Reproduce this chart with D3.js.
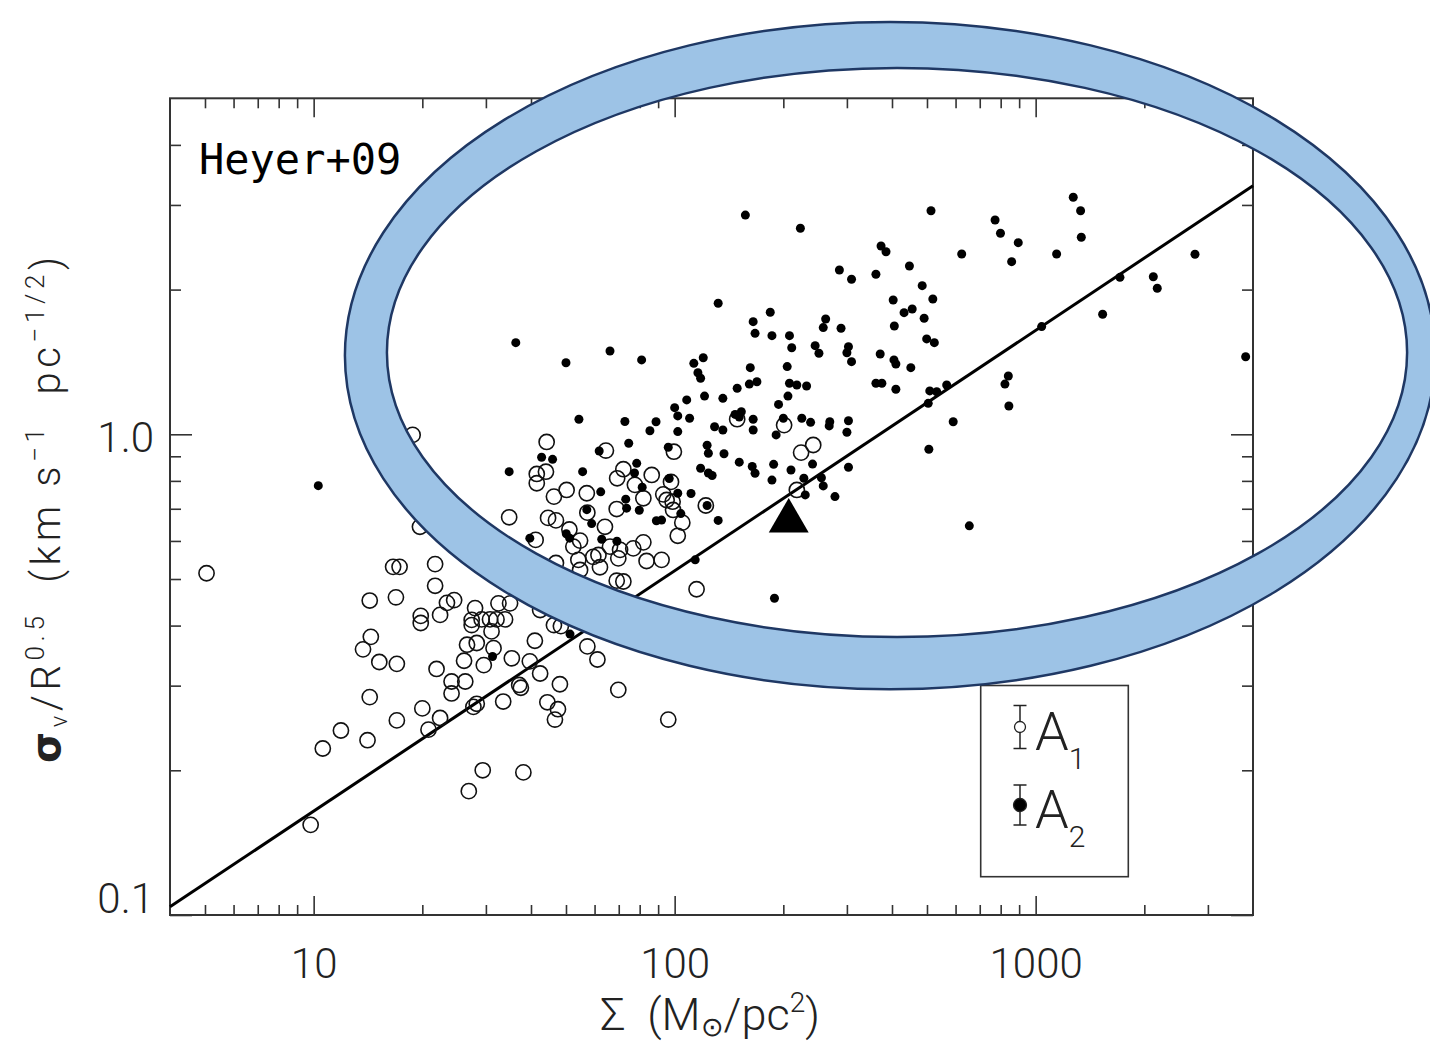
<!DOCTYPE html>
<html>
<head>
<meta charset="utf-8">
<script src="https://cdn.jsdelivr.net/npm/d3@7"></script>
<style>
  body { margin: 0; background: #fff; }
  svg { display: block; }
</style>
</head>
<body>
<svg id="chart" width="1430" height="1045"></svg>
<script>
// Tick values and labels
const xMajorTicks = [10, 100, 1000];
const xTickLabels = ["10", "100", "1000"];
const xMinorTicks = [5, 6, 7, 8, 9, 20, 30, 40, 50, 60, 70, 80, 90,
                     200, 300, 400, 500, 600, 700, 800, 900, 2000, 3000];
const yMajorTicks = [0.1, 1.0];
const yTickLabels = ["0.1", "1.0"];
const yMinorTicks = [0.2, 0.3, 0.4, 0.5, 0.6, 0.7, 0.8, 0.9, 2, 3, 4];

// Virial relation sigma/R^0.5 = (pi G / 5)^0.5 * Sigma^0.5
const fitSigma = [4, 4000];
const fitRatio = [0.104, 3.29];

// A1 clouds: [Sigma (Msun/pc^2), sigma_v / R^0.5]
const a1Points = [
  [5.05,0.514],[9.81,0.154],[10.6,0.222],[11.9,0.242],[14.1,0.231],[14.3,0.284],[13.7,0.357],
  [14.4,0.379],[15.2,0.336],[17.0,0.333],[14.3,0.451],[16.9,0.458],[16.6,0.530],[17.3,0.530],
  [21.7,0.537],[21.7,0.484],[23.4,0.446],[24.5,0.452],[19.8,0.419],[19.8,0.405],[22.4,0.421],
  [28.0,0.435],[32.5,0.445],[35.0,0.445],[27.4,0.411],[27.4,0.401],[29.2,0.412],[30.8,0.412],
  [32.1,0.412],[33.9,0.412],[31.1,0.389],[26.6,0.365],[28.3,0.368],[31.5,0.359],[41.0,0.372],
  [35.4,0.342],[26.1,0.338],[29.6,0.331],[39.7,0.337],[21.9,0.325],[24.1,0.306],[26.3,0.306],
  [24.1,0.289],[42.4,0.318],[37.1,0.301],[37.5,0.297],[48.1,0.302],[33.5,0.278],[27.7,0.271],
  [28.3,0.275],[44.4,0.277],[47.5,0.268],[46.6,0.255],[20.0,0.269],[17.0,0.254],[22.4,0.257],
  [20.8,0.243],[29.4,0.200],[38.1,0.198],[26.9,0.181],[57.3,0.362],[61.1,0.340],[69.8,0.294],
  [96.0,0.255],[115,0.476],[44.2,0.964],[44.0,0.836],[41.5,0.827],[41.5,0.791],[46.3,0.742],
  [50.2,0.766],[34.8,0.672],[44.6,0.670],[46.9,0.662],[41.2,0.603],[51.1,0.634],[54.7,0.601],
  [57.1,0.754],[57.3,0.687],[72.1,0.846],[69.3,0.810],[77.6,0.785],[81.9,0.736],[86.4,0.823],
  [93.0,0.750],[95.0,0.730],[98.7,0.724],[99.0,0.696],[69.1,0.699],[64.1,0.642],[105,0.655],
  [102,0.615],[81.9,0.596],[76.8,0.579],[70.6,0.575],[66.2,0.584],[61.5,0.561],[59.5,0.556],
  [69.8,0.552],[62.1,0.529],[52.4,0.584],[54.1,0.548],[54.7,0.522],[83.6,0.545],[92.0,0.548],
  [69.1,0.496],[72.1,0.494],[64.5,0.925],[99.5,0.920],[149,1.075],[201,1.045],[224,0.916],
  [242,0.950],[218,0.766],[122,0.711],[97.7,0.796],[19.7,0.642],[18.8,0.997],[42.4,0.431],
  [46.3,0.401],[48.4,0.399],[46.9,0.540]
];

// A2 clouds: [Sigma (Msun/pc^2), sigma_v / R^0.5]
const a2Points = [
  [10.3,0.782],[34.8,0.836],[42.8,0.896],[45.9,0.887],[39.7,0.608],[31.3,0.345],[36.3,1.551],
  [50.0,1.409],[66.2,1.49],[81.0,1.428],[113,1.405],[120,1.443],[116,1.343],[118,1.308],
  [162,1.376],[167,1.622],[149,1.247],[161,1.272],[169,1.286],[108,1.179],[121,1.201],
  [136,1.188],[100,1.136],[102,1.092],[110,1.08],[147,1.10],[153,1.114],[151,1.086],
  [165,1.075],[165,1.021],[129,1.037],[136,1.021],[54.3,1.075],[72.8,1.063],[88.8,1.062],
  [85.4,1.017],[102,1.013],[74.6,0.958],[96.0,0.940],[123,0.949],[124,0.913],[137,0.911],
  [151,0.875],[164,0.857],[167,0.830],[118,0.850],[124,0.831],[127,0.821],[61.8,0.923],
  [55.6,0.836],[78.5,0.870],[77.4,0.831],[96.6,0.809],[81.3,0.776],[62.4,0.759],[102,0.754],
  [111,0.753],[123,0.711],[73.2,0.733],[73.6,0.702],[79.8,0.695],[57.1,0.697],[104,0.684],
  [132,0.662],[89.0,0.661],[92.0,0.663],[58.9,0.652],[50.1,0.621],[51.2,0.608],[62.8,0.605],
  [69.2,0.599],[114,0.548],[51.3,0.384],[189,0.456],[655,0.645],[157,2.858],[223,2.683],
  [513,2.918],[772,2.791],[799,2.619],[624,2.372],[286,2.197],[309,2.101],[373,2.464],
  [385,2.398],[361,2.152],[447,2.239],[485,2.038],[519,1.912],[403,1.903],[432,1.791],
  [455,1.822],[491,1.743],[406,1.68],[499,1.579],[524,1.551],[132,1.873],[184,1.794],
  [165,1.715],[186,1.604],[208,1.604],[211,1.514],[262,1.737],[258,1.667],[289,1.662],
  [245,1.529],[251,1.474],[303,1.521],[300,1.478],[309,1.416],[371,1.469],[405,1.428],
  [410,1.40],[451,1.376],[361,1.277],[375,1.277],[410,1.241],[509,1.231],[532,1.226],
  [567,1.266],[504,1.16],[591,1.062],[506,0.931],[205,1.383],[208,1.277],[218,1.266],
  [232,1.26],[206,1.201],[194,1.154],[200,1.08],[225,1.08],[238,1.059],[269,1.062],
  [268,1.041],[303,1.067],[300,1.01],[191,0.997],[188,0.866],[210,0.843],[186,0.803],
  [241,0.867],[228,0.81],[255,0.812],[258,0.781],[278,0.742],[230,0.748],[303,0.854],
  [895,2.504],[858,2.286],[1271,3.112],[1332,2.918],[1338,2.57],[1143,2.372],[1712,2.121],
  [2118,2.127],[2172,2.013],[2763,2.369],[1533,1.777],[1039,1.675],[840,1.322],[822,1.272],
  [843,1.145],[3817,1.45]
];

// Mean of the sample
const meanPoint = [207, 0.66];

// Highlight ring (centre in data units, half-axes in decades)
const ringOuter = { sigma: 395, ratio: 1.458, dx: 1.510, dy: 0.694 };
const ringInner = { sigma: 413, ratio: 1.480, dx: 1.413, dy: 0.592 };

const W = 1430, H = 1045;
const plot = { left: 170, right: 1253, top: 98.3, bottom: 915 };

const svg = d3.select("#chart");
svg.append("rect").attr("width", W).attr("height", H).attr("fill", "#fff");

const x = d3.scaleLog().domain([4, 4000]).range([plot.left, plot.right]);
const y = d3.scaleLog().domain([0.1, 5]).range([plot.bottom, plot.top]);

const axisColor = "#333";
const tickFont = "Roboto, 'Liberation Sans', sans-serif";

function styleAxis(g) {
  g.select(".domain").remove();
  g.selectAll(".tick line").attr("stroke", axisColor).attr("stroke-width", 1.6);
}

// Bottom axis: major ticks with labels, minor ticks
svg.append("g")
  .attr("transform", `translate(0,${plot.bottom})`)
  .call(d3.axisBottom(x).tickValues(xMajorTicks).tickSize(-19).tickPadding(33)
        .tickFormat((d, i) => xTickLabels[i]))
  .call(styleAxis)
  .call(g => g.selectAll("text")
      .attr("font-family", tickFont).attr("font-weight", 300)
      .attr("font-size", 42).attr("fill", "#222"));
svg.append("g")
  .attr("transform", `translate(0,${plot.bottom})`)
  .call(d3.axisBottom(x).tickValues(xMinorTicks).tickSize(-10).tickFormat(""))
  .call(styleAxis);

// Top axis (mirrored ticks)
svg.append("g")
  .attr("transform", `translate(0,${plot.top})`)
  .call(d3.axisTop(x).tickValues(xMajorTicks).tickSize(-19).tickFormat(""))
  .call(styleAxis);
svg.append("g")
  .attr("transform", `translate(0,${plot.top})`)
  .call(d3.axisTop(x).tickValues(xMinorTicks).tickSize(-10).tickFormat(""))
  .call(styleAxis);

// Left axis
svg.append("g")
  .attr("transform", `translate(${plot.left},0)`)
  .call(d3.axisLeft(y).tickValues(yMajorTicks).tickSize(-22).tickPadding(16)
        .tickFormat((d, i) => yTickLabels[i]))
  .call(styleAxis)
  .call(g => g.selectAll("text")
      .attr("font-family", tickFont).attr("font-weight", 300)
      .attr("font-size", 42).attr("fill", "#222")
      .attr("dy", (d) => d === yMajorTicks[0] ? "-0.05em" : "0.42em"));
svg.append("g")
  .attr("transform", `translate(${plot.left},0)`)
  .call(d3.axisLeft(y).tickValues(yMinorTicks).tickSize(-11).tickFormat(""))
  .call(styleAxis);

// Right axis (mirrored ticks)
svg.append("g")
  .attr("transform", `translate(${plot.right},0)`)
  .call(d3.axisRight(y).tickValues(yMajorTicks).tickSize(-22).tickFormat(""))
  .call(styleAxis);
svg.append("g")
  .attr("transform", `translate(${plot.right},0)`)
  .call(d3.axisRight(y).tickValues(yMinorTicks).tickSize(-11).tickFormat(""))
  .call(styleAxis);

// Frame
svg.append("rect")
  .attr("x", plot.left).attr("y", plot.top)
  .attr("width", plot.right - plot.left).attr("height", plot.bottom - plot.top)
  .attr("fill", "none").attr("stroke", axisColor).attr("stroke-width", 2);

// Fit line
svg.append("path")
  .datum(fitSigma.map((s, i) => [s, fitRatio[i]]))
  .attr("d", d3.line().x(d => x(d[0])).y(d => y(d[1])))
  .attr("fill", "none").attr("stroke", "#000").attr("stroke-width", 3);

// A1 open circles
svg.append("g").selectAll("circle")
  .data(a1Points).join("circle")
  .attr("cx", d => x(d[0])).attr("cy", d => y(d[1])).attr("r", 7.6)
  .attr("fill", "none").attr("stroke", "#111").attr("stroke-width", 1.6);

// A2 filled dots
svg.append("g").selectAll("circle")
  .data(a2Points).join("circle")
  .attr("cx", d => x(d[0])).attr("cy", d => y(d[1])).attr("r", 4.5)
  .attr("fill", "#000");

// Mean marker
svg.append("path")
  .attr("transform", `translate(${x(meanPoint[0])},${y(meanPoint[1])})`)
  .attr("d", d3.symbol(d3.symbolTriangle, 690)())
  .attr("fill", "#000");

// Legend
const lg = svg.append("g");
lg.append("rect").attr("x", 980.7).attr("y", 685.5).attr("width", 147.6).attr("height", 191.2)
  .attr("fill", "none").attr("stroke", axisColor).attr("stroke-width", 1.6);
const legendItems = [
  { label: "A", sub: "1", filled: false, cy: 727, bar: 21.5 },
  { label: "A", sub: "2", filled: true, cy: 805, bar: 20 }
];
legendItems.forEach(it => {
  const bx = 1020;
  lg.append("line").attr("x1", bx).attr("x2", bx).attr("y1", it.cy - it.bar).attr("y2", it.cy + it.bar)
    .attr("stroke", "#222").attr("stroke-width", 1.5);
  [-1, 1].forEach(s => lg.append("line")
    .attr("x1", bx - 6.5).attr("x2", bx + 6.5)
    .attr("y1", it.cy + s * it.bar).attr("y2", it.cy + s * it.bar)
    .attr("stroke", "#222").attr("stroke-width", 1.5));
  lg.append("circle").attr("cx", bx).attr("cy", it.cy).attr("r", it.filled ? 6.5 : 5.5)
    .attr("fill", it.filled ? "#000" : "#fff").attr("stroke", "#222").attr("stroke-width", 1.3);
  const t = lg.append("text").attr("x", 1035).attr("y", it.cy + 23)
    .attr("font-family", tickFont).attr("font-weight", 300).attr("font-size", 54).attr("fill", "#222");
  t.append("tspan").text(it.label);
  t.append("tspan").attr("font-size", 30).attr("dy", 19).text(it.sub);
});

// X axis title
const xt = svg.append("text").attr("x", 710).attr("y", 1030).attr("text-anchor", "middle")
  .attr("font-family", tickFont).attr("font-weight", 300).attr("font-size", 45).attr("fill", "#222");
xt.append("tspan").text("\u03a3\u00a0\u00a0(M");
xt.append("tspan").attr("font-size", 27).attr("dy", 6).attr("font-family", "'DejaVu Sans', sans-serif").text("\u2299");
xt.append("tspan").attr("dy", -6).text("/pc");
xt.append("tspan").attr("font-size", 28).attr("dy", -18).text("2");
xt.append("tspan").attr("dy", 18).text(")");

// Y axis title
const yt = svg.append("text")
  .attr("transform", "translate(60,510) rotate(-90)")
  .attr("text-anchor", "middle")
  .attr("font-family", tickFont).attr("font-weight", 300).attr("font-size", 40).attr("fill", "#222")
  .attr("textLength", 506).attr("lengthAdjust", "spacing");
yt.append("tspan").attr("font-weight", 700).attr("font-family", "'DejaVu Sans', sans-serif").text("\u03c3");
yt.append("tspan").attr("font-size", 24).attr("dy", 7).text("v");
yt.append("tspan").attr("dy", -7).text("/R");
yt.append("tspan").attr("font-size", 26).attr("dy", -16).text("0.5");
yt.append("tspan").attr("dy", 16).text("\u00a0\u00a0(km\u00a0s");
yt.append("tspan").attr("font-size", 26).attr("dy", -16).text("\u22121");
yt.append("tspan").attr("dy", 16).text("\u00a0\u00a0pc");
yt.append("tspan").attr("font-size", 26).attr("dy", -16).text("\u22121/2");
yt.append("tspan").attr("dy", 16).text(")");

// Survey tag
svg.append("text").attr("x", 199).attr("y", 174)
  .attr("font-family", "'DejaVu Sans Mono', 'Liberation Mono', monospace")
  .attr("font-size", 42).attr("fill", "#000").text("Heyer+09");

// Highlight ring over the A2 population
function ringGeom(r) {
  const cx = x(r.sigma), cy = y(r.ratio);
  const rx = x(r.sigma * Math.pow(10, r.dx)) - cx;
  const ry = cy - y(r.ratio * Math.pow(10, r.dy));
  return { cx, cy, rx, ry };
}
const o = ringGeom(ringOuter), inn = ringGeom(ringInner);
const ellipseD = e =>
  `M${e.cx + e.rx},${e.cy} A${e.rx},${e.ry} 0 1,0 ${e.cx - e.rx},${e.cy} A${e.rx},${e.ry} 0 1,0 ${e.cx + e.rx},${e.cy} Z`;
svg.append("path")
  .attr("d", ellipseD(o) + " " + ellipseD(inn))
  .attr("fill", "#9dc3e6").attr("fill-rule", "evenodd")
  .attr("stroke", "#1f3864").attr("stroke-width", 2.5);
</script>
</body>
</html>
